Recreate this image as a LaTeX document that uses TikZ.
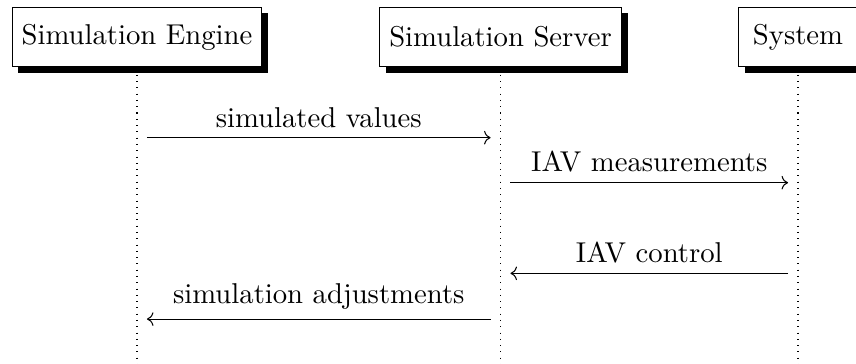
\documentclass[11pt,tikz,border=0pt]{standalone}
\usepackage{tikz}
\usetikzlibrary{arrows.meta, positioning, shadows, calc}

\begin{document}
\begin{tikzpicture}[
        inst/.style={rectangle, draw, fill=white, minimum height=0.8cm, minimum width=1.6cm, drop shadow={opacity=1, fill=black}},
        lifeline/.style={dotted, shorten <=0.1cm},
        mess/.style={->, shorten <=3.8pt, shorten >=3.8pt}
    ]
        \useasboundingbox (0,0) rectangle (11.484,-4.87);
        \node[inst] (engine) at (1.838,-0.496) {Simulation Engine};
        \node[inst] (server) at (6.715,-0.496) {Simulation Server};
        \node[inst] (system) at (10.706,-0.496) {System};
        % lifelines
        \coordinate (engine end) at (engine |- 0,-4.9);
        \coordinate (server end) at (server |- 0,-4.9);
        \coordinate (system end) at (system |- 0,-4.9);
        \draw[lifeline] (engine) -- (engine end);
        \draw[lifeline] (server) -- (server end);
        \draw[lifeline] (system) -- (system end);
        % messages
        \draw[mess] (engine |- 0,-1.847) -- node[above] {simulated values} (server |- 0,-1.847);
        \draw[mess] (server |- 0,-2.451) -- node[above] {IAV measurements} (system |- 0,-2.451);
        \draw[mess] (system |- 0,-3.667) -- node[above] {IAV control} (server |- 0,-3.667);
        \draw[mess] (server |- 0,-4.280) -- node[above] {simulation adjustments} (engine |- 0,-4.280);
    \end{tikzpicture}
\end{document}
